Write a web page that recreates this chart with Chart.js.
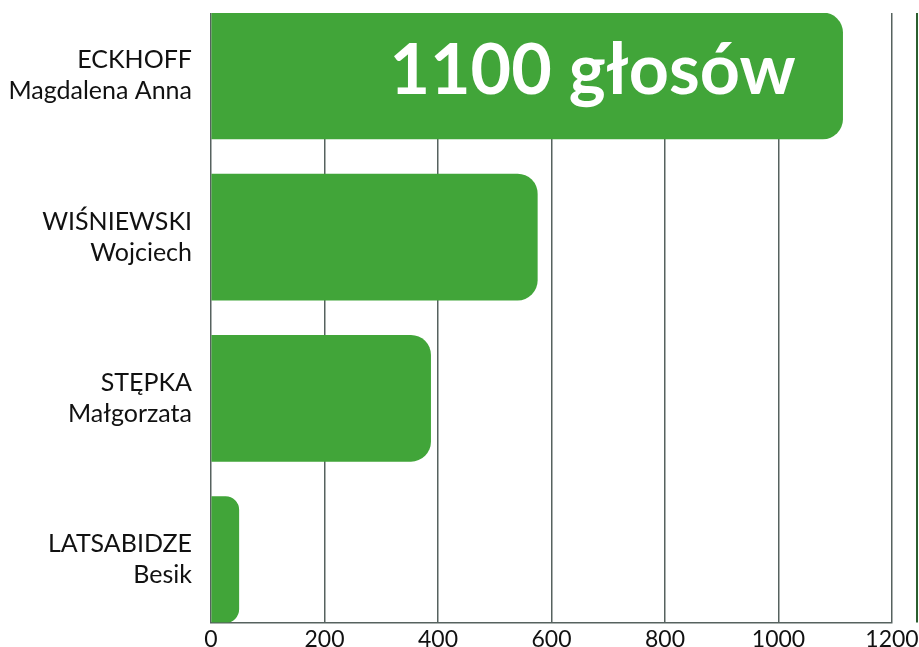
<!DOCTYPE html>
<html>
<head>
<meta charset="utf-8">
<script src="https://cdn.jsdelivr.net/npm/chart.js@4"></script>
<style>
html,body{margin:0;padding:0;background:#fff;overflow:hidden;}
#wrap{position:relative;width:919px;height:656px;}
</style>
</head>
<body>
<div id="wrap"><canvas id="c"></canvas></div>
<script>
const surnames = ["ECKHOFF", "WIŚNIEWSKI", "STĘPKA", "LATSABIDZE"];
const givenNames = ["Magdalena Anna", "Wojciech", "Małgorzata", "Besik"];
const votes = [1113, 575, 387, 49];
const barLabels = ["1100 głosów", "", "", ""];
const xTicks = [0, 200, 400, 600, 800, 1000, 1200];

const GREEN = "rgb(65,165,57)";
const GRID = "#56625f";
const FONT = "Lato, 'DejaVu Sans', sans-serif";

const points = votes.map((v, i) => ({ x: v, y: i }));

const barTextPlugin = {
  id: "barText",
  afterDatasetsDraw(chart) {
    const ctx = chart.ctx;
    const meta = chart.getDatasetMeta(0);
    meta.data.forEach((bar, i) => {
      const t = barLabels[i];
      if (!t) return;
      ctx.save();
      ctx.fillStyle = "#ffffff";
      ctx.font = "bold 70px " + FONT;
      ctx.textAlign = "right";
      ctx.textBaseline = "alphabetic";
      ctx.fillText(t, bar.x - 47, bar.y + 18);
      ctx.restore();
    });
  }
};

const rightLinePlugin = {
  id: "rightLine",
  afterDraw(chart) {
    const ctx = chart.ctx;
    const a = chart.chartArea;
    ctx.save();
    ctx.strokeStyle = "#2b5e2e";
    ctx.lineWidth = 2;
    ctx.beginPath();
    ctx.moveTo(chart.width - 2, a.top);
    ctx.lineTo(chart.width - 2, a.bottom);
    ctx.stroke();
    ctx.restore();
  }
};

new Chart(document.getElementById("c"), {
  type: "bar",
  data: {
    datasets: [{
      data: points,
      backgroundColor: GREEN,
      borderWidth: 0,
      borderSkipped: "start",
      borderRadius: { topRight: 20, bottomRight: 20, topLeft: 0, bottomLeft: 0 },
      barThickness: 126
    }]
  },
  options: {
    indexAxis: "y",
    responsive: true,
    maintainAspectRatio: false,
    animation: false,
    layout: { padding: { top: 13, right: 27, left: 0, bottom: 0 } },
    plugins: { legend: { display: false }, tooltip: { enabled: false } },
    scales: {
      x: {
        type: "linear",
        min: 0,
        max: 1200,
        afterBuildTicks(scale) { scale.ticks = xTicks.map(v => ({ value: v })); },
        afterFit(scale) { scale.paddingLeft = 0; scale.paddingRight = 0; },
        grid: { color: GRID, lineWidth: 1.5, drawTicks: false },
        border: { color: GRID, width: 1.5 },
        ticks: {
          color: "#111",
          font: { family: FONT, size: 23 },
          padding: 3,
          callback: (v) => String(v)
        }
      },
      y: {
        type: "linear",
        reverse: true,
        offset: false,
        min: -0.39,
        max: 3.39,
        afterBuildTicks(scale) { scale.ticks = surnames.map((s, i) => ({ value: i })); },
        afterFit(scale) { scale.width = 211; scale.paddingTop = 0; scale.paddingBottom = 0; },
        grid: { display: false, drawTicks: false },
        border: { display: false },
        ticks: {
          color: "#111",
          font: { family: FONT, size: 25, lineHeight: 1.24 },
          padding: 19,
          callback: (v) => [surnames[v], givenNames[v]]
        }
      }
    }
  },
  plugins: [barTextPlugin, rightLinePlugin]
});
</script>
</body>
</html>
